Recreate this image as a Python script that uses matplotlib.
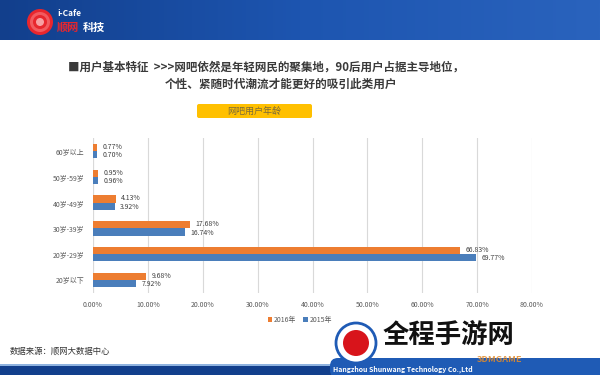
import matplotlib
matplotlib.use("Agg")
import matplotlib.pyplot as plt
from matplotlib.patches import Rectangle, Circle, FancyBboxPatch
import numpy as np

plt.rcParams['font.family'] = ['Noto Sans CJK SC', 'DejaVu Sans']

categories = ["20岁以下", "20岁-29岁", "30岁-39岁", "40岁-49岁", "50岁-59岁", "60岁以上"]
v2016 = [9.68, 66.83, 17.68, 4.13, 0.95, 0.77]
v2015 = [7.92, 69.77, 16.74, 3.92, 0.96, 0.70]
xticks = [0, 10, 20, 30, 40, 50, 60, 70, 80]
series_names = ["2016年", "2015年"]
c2016 = "#ED7D31"
c2015 = "#4A7EBB"

W, H = 600, 375
fig = plt.figure(figsize=(6, 3.75), dpi=100)
fig.patch.set_facecolor("white")

bg = fig.add_axes([0, 0, 1, 1])
bg.set_xlim(0, W)
bg.set_ylim(H, 0)
bg.axis("off")

# header banner
grad = np.linspace(0, 1, 256).reshape(1, -1)
bg.imshow(grad, extent=[0, W, 40, 0], cmap=matplotlib.colors.LinearSegmentedColormap.from_list(
    "h", ["#123f8c", "#1d55b0", "#2a63bd"]), aspect="auto", zorder=0)
for r, col in [(13, "#e8262d"), (10, "#f25a5f"), (7, "#e8262d"), (4, "#f7a0a3")]:
    bg.add_patch(Circle((40, 22), r, facecolor=col, edgecolor="none", zorder=1))
bg.text(57, 14, "i-Cafe", color="white", fontsize=6, fontweight="bold", va="center", zorder=2)
bg.text(57, 27, "顺网", color="#e8262d", fontsize=8, fontweight="bold", va="center", zorder=2)
bg.text(83, 27, "科技", color="white", fontsize=8, fontweight="bold", va="center", zorder=2)

# title lines
bg.text(68, 67, "■用户基本特征  >>>网吧依然是年轻网民的聚集地，90后用户占据主导地位，",
        fontsize=8.3, fontweight="bold", color="#3a3a3a", va="center", ha="left")
bg.text(165, 84, "个性、紧随时代潮流才能更好的吸引此类用户",
        fontsize=8.4, fontweight="bold", color="#3a3a3a", va="center", ha="left")

# yellow caption box
bg.add_patch(FancyBboxPatch((197, 104), 115, 14, boxstyle="round,pad=0,rounding_size=2",
                            facecolor="#FFC000", edgecolor="none"))
bg.text(254.5, 111, "网吧用户年龄", fontsize=6.5, color="#7a6a3a", ha="center", va="center")

# data source
bg.text(10, 351, "数据来源：顺网大数据中心", fontsize=6, color="#333333", va="center")

# footer band
bg.add_patch(Rectangle((0, 366), W, 9, facecolor="#123f8c", edgecolor="none"))
bg.add_patch(Rectangle((0, 364), W, 2, facecolor="#8fb3e0", edgecolor="none"))
bg.add_patch(FancyBboxPatch((330, 358), 290, 20, boxstyle="round,pad=0,rounding_size=8",
                            facecolor="#1f5bb5", edgecolor="none"))
bg.text(333, 369, "Hangzhou Shunwang Technology Co.,Ltd", fontsize=5, color="white",
        fontweight="bold", va="center")

# watermark
bg.add_patch(Circle((356, 343), 20, facecolor="white", edgecolor="#1f5bb5", linewidth=2, zorder=3))
bg.add_patch(Circle((356, 343), 13, facecolor="#d8141b", edgecolor="none", zorder=4))
bg.text(449, 335, "全程手游网", fontsize=19, fontweight="bold", color="#111111",
        ha="center", va="center", zorder=5)
bg.text(500, 360, "3DMGAME", fontsize=6.5, fontweight="bold", color="#e38b2a",
        ha="center", va="center", zorder=5, alpha=0.85)

# main chart axes
x0, x1 = 93, 532
ytop, ybot = 138, 293
ax = fig.add_axes([x0 / W, 1 - ybot / H, (x1 - x0) / W, (ybot - ytop) / H])
ax.set_facecolor("none")
y = np.arange(len(categories))
bh = 0.28
ax.barh(y + bh / 2, v2016, height=bh, color=c2016, label=series_names[0], zorder=3)
ax.barh(y - bh / 2, v2015, height=bh, color=c2015, label=series_names[1], zorder=3)
for i in range(len(categories)):
    ax.text(v2016[i] + 1.0, y[i] + bh / 2 + 0.02, f"{v2016[i]:.2f}%", fontsize=5,
            color="#404040", va="center", ha="left")
    ax.text(v2015[i] + 1.0, y[i] - bh / 2 - 0.02, f"{v2015[i]:.2f}%", fontsize=5,
            color="#404040", va="center", ha="left")
ax.set_xlim(0, 80)
ax.set_ylim(-0.5, len(categories) - 0.5)
ax.set_xticks(xticks)
ax.set_xticklabels([f"{t:.2f}%" for t in xticks], fontsize=5, color="#595959")
ax.set_yticks(y)
ax.set_yticklabels(categories, fontsize=5, color="#595959")
ax.tick_params(length=0, pad=6)
ax.xaxis.grid(True, color="#d9d9d9", linewidth=0.8, zorder=0)
for s in ax.spines.values():
    s.set_visible(False)
ax.axvline(0, color="#d9d9d9", linewidth=0.8, zorder=1)

leg = fig.legend(handles=ax.get_legend_handles_labels()[0], labels=series_names,
                 loc="center", bbox_to_anchor=(300 / W, 1 - 320 / H), ncol=2,
                 frameon=False, fontsize=5, handlelength=0.6, handleheight=0.6,
                 columnspacing=1.0, handletextpad=0.3)
for t in leg.get_texts():
    t.set_color("#595959")

fig.savefig("out.png", dpi=100, facecolor="white")
